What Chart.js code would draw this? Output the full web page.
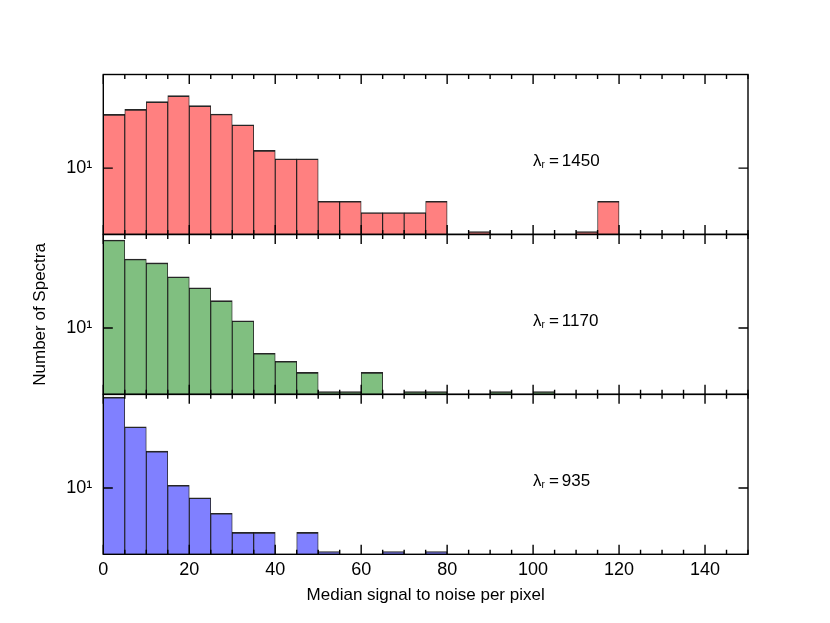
<!DOCTYPE html>
<html>
<head>
<meta charset="utf-8">
<script src="https://cdn.jsdelivr.net/npm/chart.js@4.4.1/dist/chart.umd.min.js"></script>
<style>
  html, body { margin: 0; padding: 0; background: #fff; }
  #snrChart { display: block; }
</style>
</head>
<body>
<canvas id="snrChart" width="830" height="623"></canvas>
<script>
// histogram bins are 5 wide, listed by their centres
const binCenters = [2.5, 7.5, 12.5, 17.5, 22.5, 27.5, 32.5, 37.5, 42.5, 47.5,
                    52.5, 57.5, 62.5, 67.5, 72.5, 77.5, 82.5, 87.5, 92.5, 97.5,
                    102.5, 107.5, 112.5, 117.5, 122.5, 127.5, 132.5, 137.5, 142.5, 147.5];

const counts1450 = [70, 84, 111, 138, 96, 71, 48, 19, 14, 14,
                    3, 3, 2, 2, 2, 3, 0, 1, 0, 0,
                    0, 0, 1, 3, 0, 0, 0, 0, 0, 0];
const counts1170 = [243, 122, 106, 64, 43, 27, 13, 4, 3, 2,
                    1, 1, 2, 0, 1, 1, 0, 0, 1, 0,
                    1, 0, 0, 0, 0, 0, 0, 0, 0, 0];
const counts935 = [268, 92, 38, 11, 7, 4, 2, 2, 0, 2,
                   1, 0, 0, 1, 0, 1, 0, 0, 0, 0,
                   0, 0, 0, 0, 0, 0, 0, 0, 0, 0];

const panelLabels = ['1450', '1170', '935'];
const xTickValues = [0, 20, 40, 60, 80, 100, 120, 140];
const yTickValues = [10];
const yTickLabels = ['10\u00b9'];

const FONT = 'Liberation Sans, Arial, Helvetica, sans-serif';

const panels = [
    { id: 'yTop', counts: counts1450, label: panelLabels[0], fill: '#ff8080' },
    { id: 'yMid', counts: counts1170, label: panelLabels[1], fill: '#80bf80' },
    { id: 'yBot', counts: counts935, label: panelLabels[2], fill: '#8080ff' }
];

// frames, inward ticks and the lambda labels, like the matplotlib original
const panelFrames = {
    id: 'panelFrames',
    afterDraw(chart) {
        const { ctx, chartArea, scales } = chart;
        const xs = scales.x;
        const left = chartArea.left, right = chartArea.right;
        ctx.save();
        ctx.strokeStyle = '#000';
        ctx.lineWidth = 1.4;
        panels.forEach(p => {
            const ys = scales[p.id];
            const top = ys.top, bottom = ys.bottom;
            ctx.strokeRect(left, top, right - left, bottom - top);

            ctx.beginPath();
            for (let v = 0; v <= 150; v += 5) {
                const px = xs.getPixelForValue(v);
                const len = xTickValues.includes(v) ? 9.5 : 4.5;
                ctx.moveTo(px, bottom); ctx.lineTo(px, bottom - len);
                ctx.moveTo(px, top); ctx.lineTo(px, top + len);
            }
            yTickValues.forEach(v => {
                const py = ys.getPixelForValue(v);
                ctx.moveTo(left, py); ctx.lineTo(left + 9.5, py);
                ctx.moveTo(right, py); ctx.lineTo(right - 9.5, py);
            });
            ctx.stroke();

            // "λr = 1450"
            let tx = xs.getPixelForValue(100);
            const ty = ys.getPixelForValue(12.6);
            ctx.fillStyle = '#000';
            ctx.textBaseline = 'middle';
            ctx.textAlign = 'left';
            ctx.font = '17px ' + FONT;
            ctx.fillText('\u03bb', tx, ty);
            tx += ctx.measureText('\u03bb').width;
            ctx.font = '10px ' + FONT;
            ctx.fillText('r', tx, ty + 4);
            tx += ctx.measureText('r').width + 4;
            ctx.font = '17px ' + FONT;
            ctx.fillText('=', tx, ty);
            tx += ctx.measureText('=').width + 3;
            ctx.fillText(p.label, tx, ty);
        });
        ctx.restore();
    }
};

function logAxis(showTitle) {
    return {
        type: 'logarithmic',
        position: 'left',
        stack: 'panels',
        stackWeight: 1,
        min: 0.904,
        max: 297,
        afterBuildTicks: axis => { axis.ticks = yTickValues.map(v => ({ value: v })); },
        afterFit: axis => { axis.width = 103.3; },
        grid: { display: false, drawTicks: false },
        border: { display: false },
        ticks: {
            padding: 11,
            color: '#000',
            font: { family: FONT, size: 18 },
            callback: (value, index) => yTickLabels[index]
        },
        title: {
            display: showTitle,
            text: 'Number of Spectra',
            color: '#000',
            font: { family: FONT, size: 17 },
            padding: { top: 30, bottom: 0 }
        }
    };
}

const ctx = document.getElementById('snrChart').getContext('2d');

const chart = new Chart(ctx, {
    type: 'bar',
    data: {
        datasets: panels.map(p => ({
            label: p.label,
            data: binCenters.map((x, i) => ({ x: x, y: p.counts[i] > 0 ? p.counts[i] : null })),
            yAxisID: p.id,
            backgroundColor: p.fill,
            borderColor: 'rgba(0, 0, 0, 0.85)',
            borderWidth: { top: 1.6, left: 0.9, right: 0.9, bottom: 0 },
            borderSkipped: false,
            barPercentage: 1,
            categoryPercentage: 1,
            grouped: false
        }))
    },
    options: {
        responsive: false,
        animation: false,
        layout: { padding: { top: 74.5, right: 82, bottom: 0, left: 0 } },
        plugins: {
            legend: { display: false },
            tooltip: { enabled: false }
        },
        scales: {
            x: {
                type: 'linear',
                min: 0,
                max: 150,
                offset: false,
                afterBuildTicks: axis => { axis.ticks = xTickValues.map(v => ({ value: v })); },
                afterFit: axis => { axis.height = 623 - 554.3; },
                grid: { display: false, drawTicks: false, offset: false },
                border: { display: false },
                ticks: {
                    padding: 5,
                    color: '#000',
                    maxRotation: 0,
                    autoSkip: false,
                    font: { family: FONT, size: 18 }
                },
                title: {
                    display: true,
                    text: 'Median signal to noise per pixel',
                    color: '#000',
                    font: { family: FONT, size: 17 },
                    padding: { top: 0, bottom: 17 }
                }
            },
            // stacked left axes are laid out from the last one defined, so bottom panel first
            yBot: logAxis(false),
            yMid: logAxis(true),
            yTop: logAxis(false)
        }
    },
    plugins: [panelFrames]
});
</script>
</body>
</html>
